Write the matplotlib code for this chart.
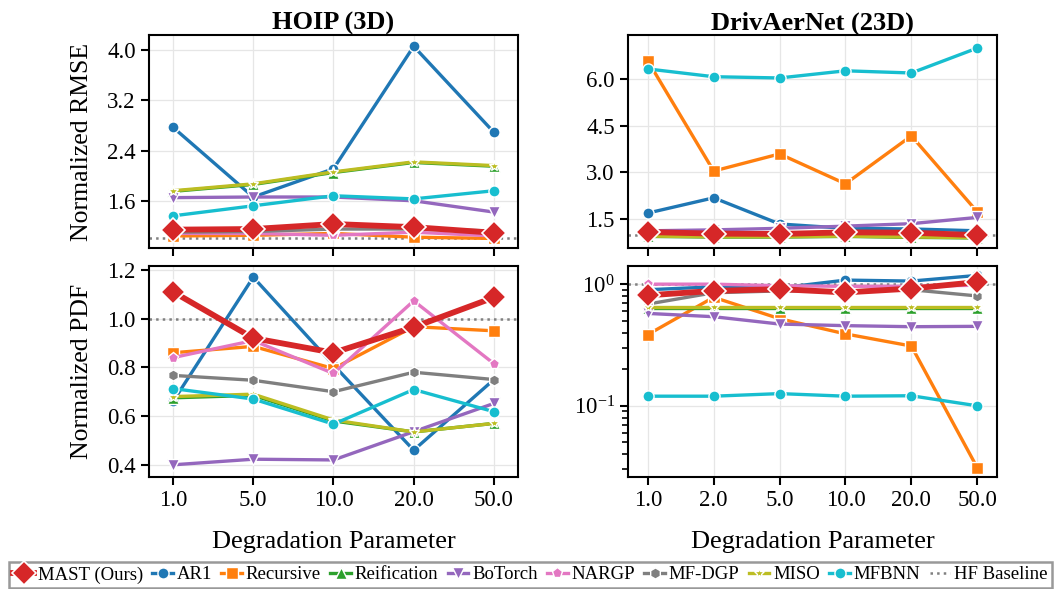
import numpy as np
import matplotlib
matplotlib.use("Agg")
import matplotlib.pyplot as plt

plt.rcParams["font.family"] = ["Liberation Serif", "DejaVu Serif"]
plt.rcParams["mathtext.fontset"] = "stix"

# ---------------------------------------------------------------------------
# Data
# ---------------------------------------------------------------------------
methods = ["AR1", "Recursive", "Reification", "BoTorch", "NARGP",
           "MF-DGP", "MISO", "MFBNN", "MAST (Ours)"]

hoip_params = ["1.0", "5.0", "10.0", "20.0", "50.0"]
driv_params = ["1.0", "2.0", "5.0", "10.0", "20.0", "50.0"]

hoip_rmse = {
    "AR1":         [2.77, 1.66, 2.11, 4.06, 2.69],
    "Recursive":   [1.04, 1.05, 1.08, 1.02, 1.00],
    "Reification": [1.75, 1.86, 2.05, 2.21, 2.15],
    "BoTorch":     [1.65, 1.66, 1.66, 1.60, 1.42],
    "NARGP":       [1.08, 1.08, 1.05, 1.10, 1.04],
    "MF-DGP":      [1.10, 1.11, 1.15, 1.15, 1.12],
    "MISO":        [1.76, 1.87, 2.06, 2.22, 2.16],
    "MFBNN":       [1.36, 1.52, 1.68, 1.63, 1.76],
    "MAST (Ours)": [1.14, 1.15, 1.23, 1.18, 1.09],
}

hoip_pdf = {
    "AR1":         [0.66, 1.17, 0.81, 0.46, 0.75],
    "Recursive":   [0.86, 0.886, 0.795, 0.967, 0.95],
    "Reification": [0.675, 0.685, 0.58, 0.535, 0.57],
    "BoTorch":     [0.40, 0.423, 0.42, 0.536, 0.652],
    "NARGP":       [0.84, 0.91, 0.775, 1.073, 0.815],
    "MF-DGP":      [0.767, 0.747, 0.70, 0.78, 0.75],
    "MISO":        [0.68, 0.69, 0.584, 0.535, 0.57],
    "MFBNN":       [0.713, 0.67, 0.567, 0.709, 0.618],
    "MAST (Ours)": [1.11, 0.92, 0.86, 0.965, 1.087],
}

driv_rmse = {
    "AR1":         [1.69, 2.18, 1.34, 1.20, 1.18, 1.12],
    "Recursive":   [6.58, 3.04, 3.59, 2.63, 4.17, 1.73],
    "Reification": [0.94, 0.92, 0.92, 0.94, 0.91, 0.89],
    "BoTorch":     [1.12, 1.15, 1.20, 1.27, 1.35, 1.55],
    "NARGP":       [1.00, 0.99, 0.99, 1.01, 0.99, 0.97],
    "MF-DGP":      [1.05, 1.04, 1.03, 1.06, 1.05, 1.00],
    "MISO":        [0.95, 0.93, 0.93, 0.95, 0.92, 0.90],
    "MFBNN":       [6.32, 6.07, 6.03, 6.26, 6.19, 6.99],
    "MAST (Ours)": [1.08, 1.03, 1.02, 1.07, 1.06, 0.98],
}

driv_pdf = {
    "AR1":         [0.90, 0.95, 0.93, 1.08, 1.06, 1.18],
    "Recursive":   [0.385, 0.78, 0.52, 0.39, 0.31, 0.031],
    "Reification": [0.64, 0.64, 0.64, 0.64, 0.64, 0.64],
    "BoTorch":     [0.575, 0.54, 0.47, 0.456, 0.447, 0.45],
    "NARGP":       [1.00, 1.00, 0.97, 0.96, 0.96, 0.98],
    "MF-DGP":      [0.686, 0.85, 0.88, 0.88, 0.90, 0.80],
    "MISO":        [0.645, 0.645, 0.645, 0.645, 0.645, 0.645],
    "MFBNN":       [0.12, 0.12, 0.126, 0.12, 0.121, 0.10],
    "MAST (Ours)": [0.81, 0.88, 0.91, 0.855, 0.92, 1.04],
}

hf_baseline = 1.0

# ---------------------------------------------------------------------------
# Styles
# ---------------------------------------------------------------------------
style = {
    "AR1":         dict(color="tab:blue",   marker="o"),
    "Recursive":   dict(color="tab:orange", marker="s"),
    "Reification": dict(color="tab:green",  marker="^"),
    "BoTorch":     dict(color="tab:purple", marker="v"),
    "NARGP":       dict(color="tab:pink",   marker="p"),
    "MF-DGP":      dict(color="tab:gray",   marker="h"),
    "MISO":        dict(color="tab:olive",  marker="*"),
    "MFBNN":       dict(color="tab:cyan",   marker="o"),
    "MAST (Ours)": dict(color="tab:red",    marker="D"),
}


def draw(ax, params, data, logy=False):
    x = np.arange(len(params))
    for name in methods:
        st = style[name]
        if name == "MAST (Ours)":
            ax.plot(x, data[name], color=st["color"], marker=st["marker"],
                    lw=4.2, ms=12, mec="white", mew=1.2, zorder=10,
                    label=name)
        else:
            ax.plot(x, data[name], color=st["color"], marker=st["marker"],
                    lw=2.4, ms=8, mec="white", mew=1.0, zorder=3,
                    label=name)
    ax.axhline(hf_baseline, color="gray", ls=":", lw=1.8, zorder=2,
               label="HF Baseline")
    ax.set_xticks(x)
    ax.set_xticklabels(params)
    ax.set_xlim(-0.3, len(params) - 0.7)
    if logy:
        ax.set_yscale("log")
    ax.grid(True, color="#e6e6e6", lw=0.9, which="major")
    ax.set_axisbelow(True)
    for sp in ax.spines.values():
        sp.set_linewidth(1.5)
    ax.tick_params(axis="both", which="major", direction="out", length=6,
                   width=1.5, labelsize=16.5)
    ax.tick_params(axis="both", which="minor", direction="out", length=4,
                   width=1.2)


fig = plt.figure(figsize=(10.61, 5.89), dpi=100)

ax_tl = fig.add_axes([0.1404, 1 - 248 / 589, 0.3478, 213 / 589])
ax_bl = fig.add_axes([0.1404, 1 - 477 / 589, 0.3478, 211 / 589])
ax_tr = fig.add_axes([0.5919, 1 - 248 / 589, 0.3478, 213 / 589])
ax_br = fig.add_axes([0.5919, 1 - 477 / 589, 0.3478, 211 / 589])

draw(ax_tl, hoip_params, hoip_rmse)
draw(ax_bl, hoip_params, hoip_pdf)
draw(ax_tr, driv_params, driv_rmse)
draw(ax_br, driv_params, driv_pdf, logy=True)

ax_tl.set_ylim(0.848, 4.24)
ax_tl.set_yticks([1.6, 2.4, 3.2, 4.0])
ax_tl.set_yticklabels(["1.6", "2.4", "3.2", "4.0"])
ax_bl.set_ylim(0.35, 1.216)
ax_bl.set_yticks([0.4, 0.6, 0.8, 1.0, 1.2])
ax_bl.set_yticklabels(["0.4", "0.6", "0.8", "1.0", "1.2"])
ax_tr.set_ylim(0.568, 7.41)
ax_tr.set_yticks([1.5, 3.0, 4.5, 6.0])
ax_tr.set_yticklabels(["1.5", "3.0", "4.5", "6.0"])
ax_br.set_ylim(0.026, 1.41)

for ax in (ax_tl, ax_tr):
    ax.tick_params(labelbottom=False)

ax_tl.set_title("HOIP (3D)", fontsize=19, fontweight="bold", pad=3)
ax_tr.set_title("DrivAerNet (23D)", fontsize=19, fontweight="bold", pad=3)
ax_tl.set_ylabel("Normalized RMSE", fontsize=18.5, labelpad=10)
ax_bl.set_ylabel("Normalized PDF", fontsize=18.5, labelpad=10)
ax_bl.set_xlabel("Degradation Parameter", fontsize=19, labelpad=14)
ax_br.set_xlabel("Degradation Parameter", fontsize=19, labelpad=14)
fig.align_ylabels([ax_tl, ax_bl])

handles, labels = ax_tl.get_legend_handles_labels()
order = [labels.index(n) for n in ["MAST (Ours)"] + methods[:-1] + ["HF Baseline"]]
leg = fig.legend([handles[i] for i in order], [labels[i] for i in order],
                 loc="lower center", bbox_to_anchor=(0.5, -0.005), ncol=10,
                 fontsize=13.5, handlelength=1.1, handletextpad=0.2,
                 columnspacing=0.5, borderpad=0.25, borderaxespad=0.2,
                 frameon=True, fancybox=False, edgecolor="gray")
leg.get_frame().set_linewidth(1.8)

fig.savefig("out.png", dpi=100)
